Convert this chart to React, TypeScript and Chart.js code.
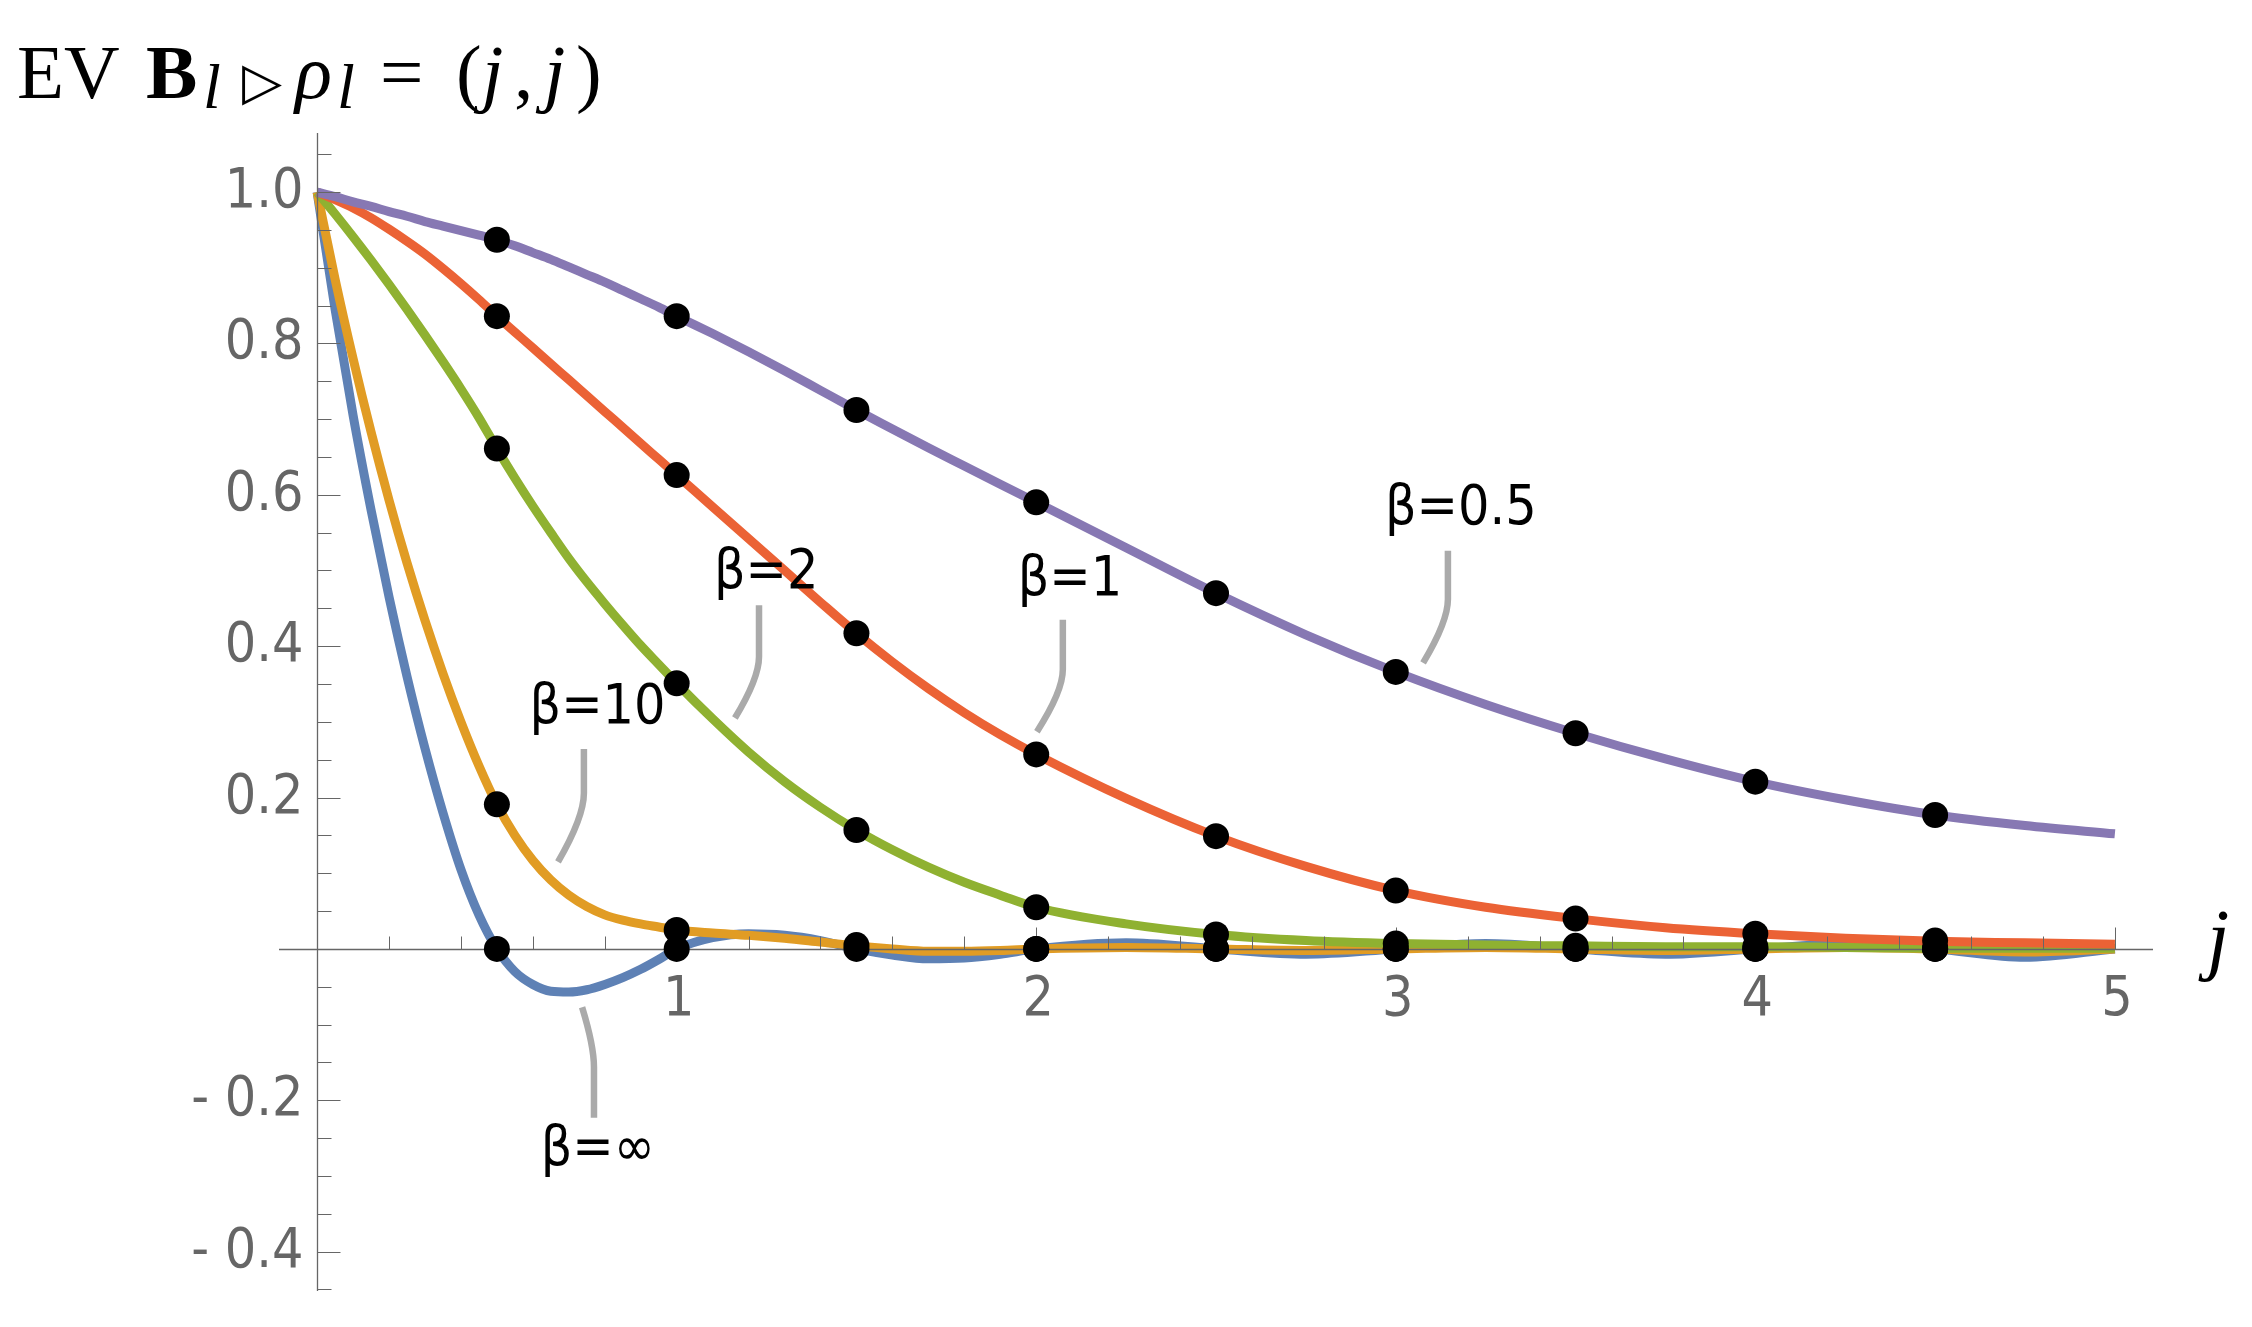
import React, { useEffect, useRef } from "react";
import { Chart, registerables } from "chart.js";

Chart.register(...registerables);

// ---------- data ----------
const jGrid = [
  0, 0.05, 0.1, 0.15, 0.2, 0.25, 0.3, 0.35, 0.4, 0.45, 0.5, 0.55, 0.6, 0.65, 0.7, 0.75, 0.8, 0.85, 0.9, 0.95, 1.0,
  1.1, 1.2, 1.3, 1.4, 1.5, 1.6, 1.7, 1.8, 1.9, 2.0,
  2.25, 2.5, 2.75, 3.0, 3.25, 3.5, 3.75, 4.0, 4.25, 4.5, 4.75, 5.0,
];

const betaInf = [
  1.0, 0.845, 0.705, 0.58, 0.465, 0.36, 0.265, 0.18, 0.105, 0.045, 0.0, -0.03, -0.047, -0.056, -0.057, -0.054, -0.047, -0.038, -0.027, -0.014, 0.0,
  0.015, 0.02, 0.018, 0.011, 0.0, -0.008, -0.013, -0.012, -0.007, 0.0,
  0.008, 0.0, -0.007, 0.0, 0.007, 0.0, -0.007, 0.0, 0.006, 0.0, -0.011, 0.0,
];

const beta10 = [
  1.0, 0.885, 0.78, 0.683, 0.593, 0.51, 0.434, 0.364, 0.30, 0.242, 0.191, 0.15, 0.117, 0.091, 0.071, 0.056, 0.045, 0.038, 0.033, 0.029, 0.025,
  0.021, 0.018, 0.014, 0.009, 0.004, 0.0, -0.003, -0.003, -0.002, 0.0,
  0.002, 0.0, -0.002, 0.0, 0.002, 0.0, -0.002, 0.0, 0.002, 0.0, -0.004, 0.0,
];

const beta2 = [
  1.0, 0.971, 0.941, 0.91, 0.878, 0.845, 0.811, 0.776, 0.74, 0.702, 0.661, 0.622, 0.585, 0.55, 0.516, 0.485, 0.456, 0.428, 0.401, 0.376, 0.351,
  0.304, 0.26, 0.221, 0.187, 0.157, 0.131, 0.108, 0.088, 0.071, 0.055,
  0.033, 0.019, 0.011, 0.007, 0.005, 0.004, 0.003, 0.003, 0.002, 0.001, 0.001, 0.001,
];

const beta1 = [
  1.0, 0.99, 0.979, 0.966, 0.951, 0.935, 0.918, 0.899, 0.879, 0.858, 0.836, 0.815, 0.794, 0.773, 0.752, 0.731, 0.71, 0.689, 0.668, 0.647, 0.626,
  0.584, 0.542, 0.5, 0.458, 0.417, 0.379, 0.344, 0.312, 0.283, 0.257,
  0.199, 0.149, 0.109, 0.077, 0.055, 0.04, 0.028, 0.02, 0.014, 0.01, 0.008, 0.006,
];

const betaHalf = [
  1.0, 0.994, 0.987, 0.981, 0.974, 0.968, 0.961, 0.955, 0.949, 0.943, 0.937, 0.929, 0.92, 0.911, 0.901, 0.891, 0.881, 0.87, 0.859, 0.848, 0.836,
  0.813, 0.789, 0.764, 0.738, 0.712, 0.687, 0.662, 0.638, 0.614, 0.59,
  0.53, 0.47, 0.415, 0.366, 0.323, 0.285, 0.251, 0.221, 0.197, 0.177, 0.163, 0.152,
];

const dotJ = [0.5, 1, 1.5, 2, 2.5, 3, 3.5, 4, 4.5];
const dotsHalf = [0.937, 0.836, 0.712, 0.59, 0.47, 0.366, 0.285, 0.221, 0.177];
const dots1 = [0.836, 0.626, 0.417, 0.257, 0.149, 0.077, 0.04, 0.02, 0.011];
const dots2 = [0.661, 0.351, 0.157, 0.055, 0.019, 0.007, 0.004, 0.003, 0.001];
const dots10 = [0.191, 0.025, 0.005, 0, 0, 0, 0, 0, 0];
const dotsInf = [0, 0, 0, 0, 0, 0, 0, 0, 0];

const xTickValues = [1, 2, 3, 4, 5];
const xTickLabels = ["1", "2", "3", "4", "5"];
const yTickValues = [-0.4, -0.2, 0.2, 0.4, 0.6, 0.8, 1.0];
const yTickLabels = ["- 0.4", "- 0.2", "0.2", "0.4", "0.6", "0.8", "1.0"];

const seriesLabels = ["β=∞", "β=10", "β=2", "β=1", "β=0.5"];

// ---------- layout / style ----------
const W = 2252;
const H = 1327;
const X_MIN = -0.106, X_MAX = 5.106, Y_MIN = -0.452, Y_MAX = 1.078;
const COLORS = ["#5E81B5", "#E19C24", "#8FB131", "#EB6235", "#8778B3"];
const LABEL_FONT = '55px "DejaVu Sans Condensed", "Liberation Sans Narrow", "DejaVu Sans", sans-serif';
const AXIS_COLOR = "#666666";

// callout placements (data units): label anchor (center, baseline) + leader path
const callouts = [
  { label: 0, tx: 0.781, ty: -0.285, leader: [[0.770, -0.223], [0.770, -0.156], [0.737, -0.077]] },
  { label: 1, tx: 0.78, ty: 0.299, leader: [[0.742, 0.264], [0.742, 0.206], [0.670, 0.115]] },
  { label: 2, tx: 1.249, ty: 0.477, leader: [[1.229, 0.454], [1.229, 0.386], [1.162, 0.305]] },
  { label: 3, tx: 2.094, ty: 0.468, leader: [[2.074, 0.435], [2.074, 0.369], [2.002, 0.287]] },
  { label: 4, tx: 3.181, ty: 0.561, leader: [[3.145, 0.526], [3.145, 0.462], [3.076, 0.378]] },
];

const SERIF = '"Liberation Serif", "DejaVu Serif", serif';
const titleParts = [
  { t: "EV", font: `77px ${SERIF}`, x: 17, dy: 0 },
  { t: "B", font: `bold 77px ${SERIF}`, x: 146, dy: 0 },
  { t: "l", font: `italic 64px ${SERIF}`, x: 203, dy: 10 },
  { t: "▷", font: `52px "DejaVu Sans", sans-serif`, x: 242, dy: 1 },
  { t: "ρ", font: `italic 77px ${SERIF}`, x: 295, dy: 0 },
  { t: "l", font: `italic 64px ${SERIF}`, x: 337, dy: 10 },
  { t: "=", font: `77px ${SERIF}`, x: 380, dy: 0 },
  { t: "(", font: `77px ${SERIF}`, x: 456, dy: 0 },
  { t: "j", font: `italic 77px ${SERIF}`, x: 482, dy: 0 },
  { t: ",", font: `77px ${SERIF}`, x: 514, dy: 0 },
  { t: "j", font: `italic 77px ${SERIF}`, x: 544, dy: 0 },
  { t: ")", font: `77px ${SERIF}`, x: 576, dy: 0 },
];
const TITLE_BASELINE = 98;

const toPts = (xs: number[], ys: number[]) => xs.map((x, i) => ({ x, y: ys[i] }));

const TOP_LINE_INDEX = 4; // purple line dataset index

function drawAxes(chart: any) {
  const { ctx, chartArea } = chart;
  const xs = chart.scales.x;
  const ys = chart.scales.y;
  const x0 = Math.round(xs.getPixelForValue(0)) + 0.5;
  const y0 = Math.round(ys.getPixelForValue(0)) + 0.5;
  ctx.save();
  ctx.strokeStyle = AXIS_COLOR;
  ctx.lineWidth = 1.3;
  ctx.beginPath();
  ctx.moveTo(chartArea.left, y0);
  ctx.lineTo(chartArea.right, y0);
  ctx.moveTo(x0, chartArea.top);
  ctx.lineTo(x0, chartArea.bottom);
  ctx.stroke();
  ctx.lineWidth = 1;
  ctx.beginPath();
  for (let k = 1; k <= 25; k++) {
    const px = Math.round(xs.getPixelForValue(k * 0.2)) + 0.5;
    const len = k % 5 === 0 ? 22 : 13;
    ctx.moveTo(px, y0);
    ctx.lineTo(px, y0 - len);
  }
  for (let k = -9; k <= 21; k++) {
    if (k === 0) continue;
    const py = Math.round(ys.getPixelForValue(k * 0.05)) + 0.5;
    const len = k % 4 === 0 ? 23 : 14;
    ctx.moveTo(x0, py);
    ctx.lineTo(x0 + len, py);
  }
  ctx.stroke();
  ctx.fillStyle = AXIS_COLOR;
  ctx.font = LABEL_FONT;
  ctx.textBaseline = "alphabetic";
  ctx.textAlign = "center";
  xTickValues.forEach((v, i) => {
    ctx.fillText(xTickLabels[i], xs.getPixelForValue(v) + 2, y0 + 65);
  });
  ctx.textAlign = "right";
  yTickValues.forEach((v, i) => {
    ctx.fillText(yTickLabels[i], x0 - 14, ys.getPixelForValue(v) + 15);
  });
  ctx.restore();
}

const axesPlugin = {
  id: "mmaAxes",
  afterDatasetDraw(chart: any, args: any) {
    if (args.index === TOP_LINE_INDEX) drawAxes(chart);
  },
};

const decorPlugin = {
  id: "mmaDecor",
  afterDraw(chart: any) {
    const { ctx, chartArea } = chart;
    const xs = chart.scales.x;
    const ys = chart.scales.y;
    ctx.save();
    // callouts
    callouts.forEach((c) => {
      const p = c.leader.map(([a, b]) => [xs.getPixelForValue(a), ys.getPixelForValue(b)]);
      ctx.strokeStyle = "#AAAAAA";
      ctx.lineWidth = 6.5;
      ctx.lineCap = "butt";
      ctx.lineJoin = "round";
      ctx.beginPath();
      ctx.moveTo(p[0][0], p[0][1]);
      ctx.lineTo(p[1][0], p[1][1]);
      ctx.quadraticCurveTo(p[1][0], p[1][1] + (p[2][1] - p[1][1]) * 0.35, p[2][0], p[2][1]);
      ctx.stroke();
      ctx.fillStyle = "#000";
      ctx.font = LABEL_FONT;
      ctx.textAlign = "center";
      ctx.textBaseline = "alphabetic";
      ctx.fillText(seriesLabels[c.label], xs.getPixelForValue(c.tx), ys.getPixelForValue(c.ty));
    });
    // axis label j
    ctx.fillStyle = "#000";
    ctx.textAlign = "left";
    ctx.font = `italic 80px ${SERIF}`;
    ctx.fillText("j", chartArea.right + 54, ys.getPixelForValue(0) + 16);
    // title
    titleParts.forEach((p) => {
      ctx.font = p.font;
      ctx.fillText(p.t, p.x, TITLE_BASELINE + p.dy);
    });
    ctx.restore();
  },
};

export default function App() {
  const ref = useRef<HTMLCanvasElement | null>(null);
  useEffect(() => {
    document.body.style.margin = "0";
    const canvas = ref.current;
    if (!canvas) return;
    const lineDs = (ys: number[], i: number, order: number) => ({
      type: "line",
      label: seriesLabels[i],
      data: toPts(jGrid, ys),
      borderColor: COLORS[i],
      borderWidth: 9,
      pointRadius: 0,
      fill: false,
      cubicInterpolationMode: "monotone",
      borderCapStyle: "butt",
      borderJoinStyle: "round",
      order,
    });
    const dotDs = (ys: number[]) => ({
      type: "scatter",
      data: toPts(dotJ, ys),
      showLine: false,
      pointRadius: 13,
      pointBackgroundColor: "#000",
      pointBorderWidth: 0,
      borderColor: "#000",
      order: 0,
    });
    const chart = new Chart(canvas, {
      type: "line",
      data: {
        datasets: [
          lineDs(betaInf, 0, 5),
          lineDs(beta10, 1, 4),
          lineDs(beta2, 2, 3),
          lineDs(beta1, 3, 2),
          lineDs(betaHalf, 4, 1),
          dotDs(dotsInf),
          dotDs(dots10),
          dotDs(dots2),
          dotDs(dots1),
          dotDs(dotsHalf),
        ] as any,
      },
      options: {
        responsive: false,
        animation: false,
        devicePixelRatio: 1,
        layout: { padding: { left: 279, right: 99, top: 133, bottom: 36 } },
        plugins: {
          legend: { display: false },
          tooltip: { enabled: false },
          title: { display: false },
        },
        scales: {
          x: { type: "linear", min: X_MIN, max: X_MAX, display: false },
          y: { type: "linear", min: Y_MIN, max: Y_MAX, display: false },
        },
      } as any,
      plugins: [axesPlugin, decorPlugin],
    });
    return () => chart.destroy();
  }, []);
  return (
    <div style={{ width: W, height: H }}>
      <canvas ref={ref} width={W} height={H} style={{ display: "block", width: W, height: H }} />
    </div>
  );
}
